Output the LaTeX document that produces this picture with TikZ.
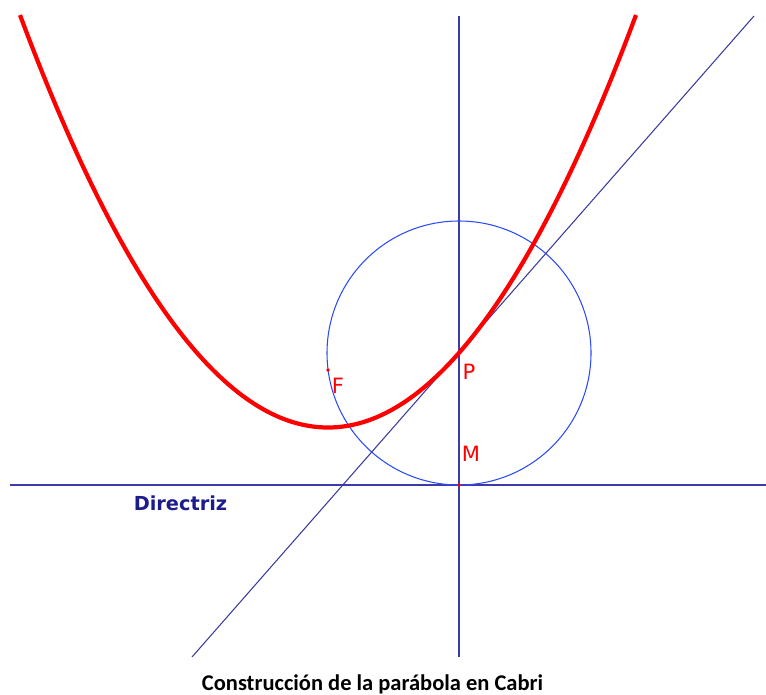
\documentclass[tikz,border=0pt]{standalone}
\usepackage{fontspec}
\setmainfont{DejaVu Sans}
\newfontfamily\CBCaptionFont{Carlito}
\definecolor{CBParabola}{HTML}{FF0000}
\definecolor{CBAxis}{HTML}{3C3CA8}
\definecolor{CBCircle}{HTML}{2B4BF5}
\definecolor{CBTangent}{HTML}{3B3B9E}
\definecolor{CBDirText}{HTML}{1C1C8C}

\begin{document}
\begin{tikzpicture}[x=0.02cm,y=0.02cm,
    axisline/.style={draw=CBAxis,line width=0.75pt},
    thinline/.style={line width=0.6pt},
    ptlabel/.style={text=CBParabola,anchor=base,font=\fontsize{12}{14}\selectfont,inner sep=0pt}]
  \useasboundingbox (0,0) rectangle (766,694);
  % puntos de la construccion
  \coordinate (F) at (328,324);
  \coordinate (P) at (459,341);
  \coordinate (M) at (459,209);
  \coordinate (dirL) at (10,209);
  \coordinate (dirR) at (766,209);
  \coordinate (ejeB) at (459,37);
  \coordinate (ejeT) at (459,678);
  \coordinate (tanB) at (192,37);
  \coordinate (tanT) at (754,678);

  \draw[axisline] (dirL) -- (dirR);
  \draw[axisline] (ejeB) -- (ejeT);
  \draw[thinline,draw=CBCircle] (P) circle[radius=132];
  \draw[thinline,draw=CBTangent] (tanB) -- (tanT);
  % parabola con foco F y directriz
  \draw[CBParabola,line width=2.4pt,line join=round] plot[domain=20:636,samples=120,smooth] (\x,{266.5+((\x-328)/15.1658)^2});
  \fill[CBParabola] (F) circle[radius=1.8];
  \fill[CBParabola] (M) circle[radius=1.8];

  \node[ptlabel] (labF) at (338,301) {F};
  \node[ptlabel] (labP) at (469,315) {P};
  \node[ptlabel] (labM) at (471,233) {M};
  \node[text=CBDirText,anchor=base,font=\bfseries\fontsize{11}{13}\selectfont,inner sep=0pt] (labDir) at (180.5,184) {Directriz};
  \node[anchor=base,font=\CBCaptionFont\bfseries\fontsize{12.8}{15}\selectfont,inner sep=0pt] (titulo) at (372.5,4) {Construcción de la parábola en Cabri};
\end{tikzpicture}
\end{document}
